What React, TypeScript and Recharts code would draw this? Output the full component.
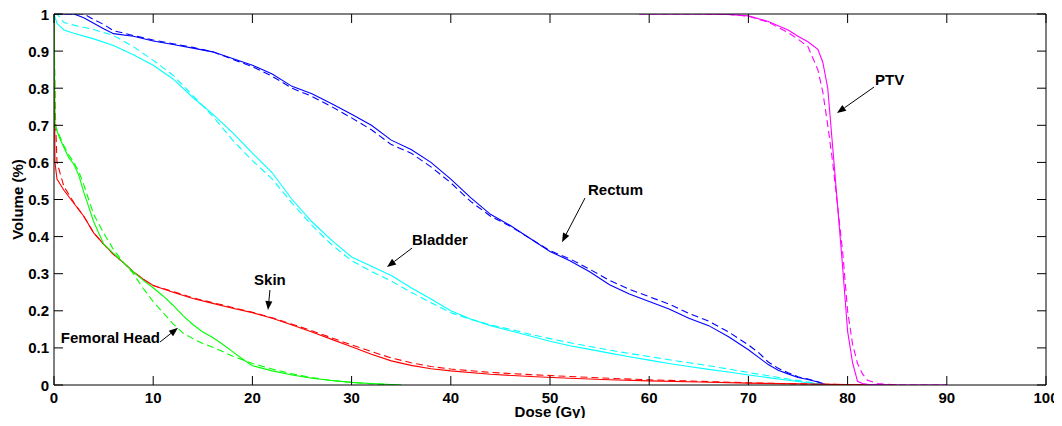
import { Line, LineChart, ReferenceLine, XAxis, YAxis } from 'recharts'

const xTicks = [0, 10, 20, 30, 40, 50, 60, 70, 80, 90, 100]
const yTicks = [0, 0.1, 0.2, 0.3, 0.4, 0.5, 0.6, 0.7, 0.8, 0.9, 1]

// solid = plan A, dashed = plan B
const rectumDose = [0, 1, 2, 3, 4, 5, 6, 8, 10, 12, 14, 16, 18, 20, 22, 24, 26, 28, 30, 32, 34, 36, 38, 40, 42, 44, 46, 48, 50, 52, 54, 56, 58, 60, 62, 64, 66, 68, 70, 71, 72, 73, 74, 75, 76, 77, 77.5, 78]
const rectumA = [1, 1, 1, 0.99, 0.975, 0.96, 0.947, 0.94, 0.927, 0.918, 0.908, 0.898, 0.88, 0.862, 0.838, 0.805, 0.785, 0.758, 0.73, 0.7, 0.66, 0.635, 0.6, 0.555, 0.505, 0.46, 0.43, 0.395, 0.36, 0.335, 0.305, 0.27, 0.245, 0.225, 0.205, 0.18, 0.16, 0.13, 0.095, 0.075, 0.055, 0.04, 0.03, 0.02, 0.015, 0.008, 0.003, 0]
const rectumB = [1, 1, 1, 1, 0.985, 0.972, 0.955, 0.942, 0.93, 0.92, 0.91, 0.898, 0.878, 0.858, 0.832, 0.8, 0.778, 0.75, 0.72, 0.688, 0.648, 0.625, 0.588, 0.545, 0.495, 0.455, 0.428, 0.395, 0.362, 0.34, 0.312, 0.282, 0.258, 0.238, 0.218, 0.193, 0.172, 0.143, 0.108, 0.088, 0.062, 0.045, 0.033, 0.022, 0.016, 0.009, 0.004, 0]

const bladderDose = [0, 0.3, 1, 2, 4, 6, 8, 10, 12, 14, 16, 18, 20, 22, 24, 26, 28, 30, 32, 34, 36, 38, 40, 42, 44, 46, 48, 50, 52, 54, 56, 58, 60, 62, 64, 66, 68, 70, 72, 74, 76, 77, 78]
const bladderA = [1, 0.975, 0.957, 0.948, 0.933, 0.915, 0.89, 0.862, 0.825, 0.775, 0.73, 0.68, 0.625, 0.572, 0.5, 0.44, 0.39, 0.345, 0.32, 0.295, 0.262, 0.232, 0.2, 0.178, 0.16, 0.146, 0.132, 0.118, 0.106, 0.096, 0.086, 0.076, 0.067, 0.058, 0.05, 0.042, 0.035, 0.027, 0.02, 0.013, 0.006, 0.003, 0]
const bladderB = [1, 1, 0.977, 0.97, 0.958, 0.942, 0.912, 0.875, 0.835, 0.78, 0.725, 0.66, 0.605, 0.555, 0.49, 0.43, 0.378, 0.335, 0.306, 0.28, 0.25, 0.222, 0.195, 0.177, 0.162, 0.15, 0.137, 0.125, 0.114, 0.104, 0.094, 0.085, 0.077, 0.068, 0.06, 0.052, 0.043, 0.034, 0.025, 0.016, 0.008, 0.004, 0]

const skinDose = [0, 0.1, 0.3, 1, 2, 3, 4, 5, 6, 7, 8, 9, 10, 12, 14, 16, 18, 20, 22, 24, 26, 28, 30, 32, 34, 36, 38, 40, 44, 48, 52, 56, 60, 65, 70, 75, 80, 85]
const skinA = [1, 0.6, 0.555, 0.525, 0.49, 0.455, 0.41, 0.38, 0.352, 0.33, 0.305, 0.285, 0.268, 0.25, 0.233, 0.22, 0.207, 0.195, 0.18, 0.162, 0.143, 0.123, 0.103, 0.083, 0.065, 0.053, 0.044, 0.038, 0.029, 0.023, 0.018, 0.014, 0.011, 0.008, 0.005, 0.003, 0.001, 0]
const skinB = [1, 0.76, 0.6, 0.535, 0.492, 0.455, 0.41, 0.38, 0.352, 0.33, 0.305, 0.285, 0.268, 0.252, 0.235, 0.222, 0.209, 0.196, 0.181, 0.164, 0.146, 0.127, 0.108, 0.09, 0.073, 0.06, 0.05, 0.043, 0.034, 0.028, 0.023, 0.018, 0.014, 0.01, 0.006, 0.003, 0.001, 0]

const femDose = [0, 0.1, 0.5, 1, 1.5, 2, 2.5, 3, 3.5, 4, 5, 6, 7, 8, 9, 10, 11, 12, 13, 14, 15, 16, 17, 18, 19, 20, 22, 24, 26, 28, 30, 32, 35]
const femA = [1, 0.7, 0.67, 0.64, 0.612, 0.595, 0.565, 0.52, 0.48, 0.44, 0.38, 0.355, 0.33, 0.305, 0.282, 0.262, 0.24, 0.215, 0.187, 0.163, 0.143, 0.128, 0.11, 0.09, 0.07, 0.052, 0.038, 0.027, 0.018, 0.012, 0.007, 0.004, 0]
const femB = [1, 0.7, 0.675, 0.645, 0.62, 0.6, 0.575, 0.54, 0.5, 0.46, 0.41, 0.365, 0.33, 0.3, 0.26, 0.225, 0.195, 0.165, 0.14, 0.125, 0.112, 0.102, 0.09, 0.078, 0.068, 0.058, 0.043, 0.03, 0.02, 0.012, 0.007, 0.003, 0]

const ptvDose = [59, 65, 68, 70, 72, 74, 75, 76, 77, 77.5, 78, 78.5, 79, 79.5, 80, 80.5, 81, 81.5, 82, 83, 85, 90]
const ptvA = [1, 1, 0.999, 0.995, 0.98, 0.957, 0.94, 0.925, 0.905, 0.87, 0.8, 0.64, 0.48, 0.318, 0.145, 0.06, 0.01, 0.004, 0.002, 0.001, 0, 0]
const ptvB = [1, 1, 0.999, 0.994, 0.978, 0.95, 0.932, 0.912, 0.85, 0.79, 0.7, 0.6, 0.48, 0.36, 0.2, 0.11, 0.058, 0.03, 0.013, 0.004, 0, 0]

// label, arrow tail [dose, vol], arrow head [dose, vol]
const notes: { label: string; tail: [number, number]; head: [number, number]; anchor: 'start' | 'middle' | 'end'; dx: number; dy: number }[] = [
  { label: 'PTV', tail: [82.66, 0.803], head: [78.93, 0.733], anchor: 'start', dx: 1, dy: -2 },
  { label: 'Rectum', tail: [53.53, 0.504], head: [51.21, 0.385], anchor: 'start', dx: 3, dy: -3 },
  { label: 'Bladder', tail: [36.09, 0.369], head: [33.57, 0.318], anchor: 'start', dx: 0, dy: -3 },
  { label: 'Skin', tail: [21.77, 0.256], head: [21.57, 0.202], anchor: 'middle', dx: 0, dy: -5 },
  { label: 'Femoral Head', tail: [10.69, 0.116], head: [12.5, 0.154], anchor: 'end', dx: 0, dy: 1 },
]

const FONT = '"Liberation Sans", Arial, Helvetica, sans-serif'
const TICK = 9

const pts = (dose: number[], vol: number[]) => dose.map((x, i) => ({ x, y: vol[i] }))

const series = [
  { key: 'rectum', color: '#0000ff', dose: rectumDose, a: rectumA, b: rectumB },
  { key: 'bladder', color: '#00ffff', dose: bladderDose, a: bladderA, b: bladderB },
  { key: 'skin', color: '#ff0000', dose: skinDose, a: skinA, b: skinB },
  { key: 'fem', color: '#00ff00', dose: femDose, a: femA, b: femB },
  { key: 'ptv', color: '#ff00ff', dose: ptvDose, a: ptvA, b: ptvB },
]

const BottomTick = ({ x, y, payload }: any) => (
  <g>
    <line x1={x} y1={y} x2={x} y2={y - TICK} stroke="#000" />
    <text x={x} y={y + 18} textAnchor="middle" fontFamily={FONT} fontWeight="bold" fontSize={15} fill="#000">
      {payload.value}
    </text>
  </g>
)
const TopTick = ({ x, y }: any) => <line x1={x} y1={y} x2={x} y2={y + TICK} stroke="#000" />
const LeftTick = ({ x, y, payload }: any) => (
  <g>
    <line x1={x} y1={y} x2={x + TICK} y2={y} stroke="#000" />
    <text x={x - 5} y={y + 5.5} textAnchor="end" fontFamily={FONT} fontWeight="bold" fontSize={15} fill="#000">
      {String(payload.value)}
    </text>
  </g>
)
const RightTick = ({ x, y }: any) => <line x1={x} y1={y} x2={x - TICK} y2={y} stroke="#000" />

const arrow = (n: (typeof notes)[number]) => (p: any) => {
  const { x1, y1, x2, y2 } = p
  const a = Math.atan2(y2 - y1, x2 - x1)
  const bx = x2 - 9 * Math.cos(a)
  const by = y2 - 9 * Math.sin(a)
  const px = -Math.sin(a) * 3.5
  const py = Math.cos(a) * 3.5
  return (
    <g>
      <line x1={x1} y1={y1} x2={bx} y2={by} stroke="#000" strokeWidth={1} />
      <polygon points={`${x2},${y2} ${bx + px},${by + py} ${bx - px},${by - py}`} fill="#000" />
      <text x={x1 + n.dx} y={y1 + n.dy} textAnchor={n.anchor} fontFamily={FONT} fontWeight="bold" fontSize={15} fill="#000">
        {n.label}
      </text>
    </g>
  )
}

export default function App() {
  return (
    <div style={{ width: 1062, height: 426, margin: -8, background: '#fff' }}>
      <LineChart width={1062} height={426} margin={{ top: 8, right: 8, bottom: 8, left: 8 }}>
        <XAxis
          xAxisId={0}
          type="number"
          dataKey="x"
          domain={[0, 100]}
          ticks={xTicks}
          interval={0}
          height={33}
          tickSize={0}
          tickMargin={0}
          tickLine={false}
          tick={<BottomTick />}
          axisLine={{ stroke: '#000' }}
          allowDataOverflow
          label={({ viewBox }: any) => (
            <text x={viewBox.x + viewBox.width / 2} y={viewBox.y + 32} textAnchor="middle" fontFamily={FONT} fontWeight="bold" fontSize={15} fill="#000">
              Dose (Gy)
            </text>
          )}
        />
        <XAxis
          xAxisId="top"
          orientation="top"
          type="number"
          dataKey="x"
          domain={[0, 100]}
          ticks={xTicks}
          interval={0}
          height={6}
          tickSize={0}
          tickMargin={0}
          tickLine={false}
          tick={<TopTick />}
          axisLine={{ stroke: '#000' }}
          allowDataOverflow
        />
        <YAxis
          yAxisId={0}
          type="number"
          domain={[0, 1]}
          ticks={yTicks}
          interval={0}
          width={46}
          tickSize={0}
          tickMargin={0}
          tickLine={false}
          tick={<LeftTick />}
          axisLine={{ stroke: '#000' }}
          allowDataOverflow
          label={({ viewBox }: any) => {
            const cx = viewBox.x + 15
            const cy = viewBox.y + viewBox.height / 2
            return (
              <text x={cx} y={cy} transform={`rotate(-90 ${cx} ${cy})`} textAnchor="middle" fontFamily={FONT} fontWeight="bold" fontSize={15} fill="#000">
                Volume (%)
              </text>
            )
          }}
        />
        <YAxis
          yAxisId="right"
          orientation="right"
          type="number"
          domain={[0, 1]}
          ticks={yTicks}
          interval={0}
          width={8}
          tickSize={0}
          tickMargin={0}
          tickLine={false}
          tick={<RightTick />}
          axisLine={{ stroke: '#000' }}
          allowDataOverflow
        />
        {series.map((s) => (
          <Line
            key={s.key + 'b'}
            data={pts(s.dose, s.b)}
            dataKey="y"
            type="linear"
            stroke={s.color}
            strokeWidth={1.1}
            strokeDasharray="7 4"
            dot={false}
            activeDot={false}
            isAnimationActive={false}
          />
        ))}
        {series.map((s) => (
          <Line
            key={s.key + 'a'}
            data={pts(s.dose, s.a)}
            dataKey="y"
            type="linear"
            stroke={s.color}
            strokeWidth={1.1}
            dot={false}
            activeDot={false}
            isAnimationActive={false}
          />
        ))}
        {notes.map((n) => (
          <ReferenceLine
            key={n.label}
            segment={[
              { x: n.tail[0], y: n.tail[1] },
              { x: n.head[0], y: n.head[1] },
            ]}
            shape={arrow(n)}
          />
        ))}
      </LineChart>
    </div>
  )
}
